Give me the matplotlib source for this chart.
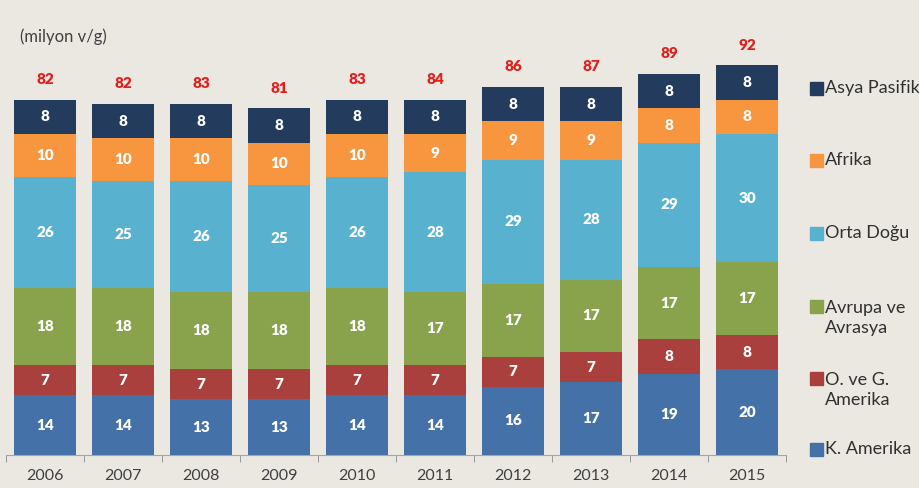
import matplotlib.pyplot as plt
from matplotlib.patches import Rectangle

years = ['2006', '2007', '2008', '2009', '2010', '2011', '2012', '2013', '2014', '2015']
k_amerika = [14, 14, 13, 13, 14, 14, 16, 17, 19, 20]
og_amerika = [7, 7, 7, 7, 7, 7, 7, 7, 8, 8]
avrupa = [18, 18, 18, 18, 18, 17, 17, 17, 17, 17]
orta_dogu = [26, 25, 26, 25, 26, 28, 29, 28, 29, 30]
afrika = [10, 10, 10, 10, 10, 9, 9, 9, 8, 8]
asya = [8, 8, 8, 8, 8, 8, 8, 8, 8, 8]
totals = [82, 82, 83, 81, 83, 84, 86, 87, 89, 92]

series = [
    ('K. Amerika', k_amerika, '#4471A8'),
    ('O. ve G.\nAmerika', og_amerika, '#A9403E'),
    ('Avrupa ve\nAvrasya', avrupa, '#88A34B'),
    ('Orta Doğu', orta_dogu, '#58B1CE'),
    ('Afrika', afrika, '#F7963F'),
    ('Asya Pasifik', asya, '#233C5E'),
]

bg = '#EAE8E1'
plt.rcParams['font.family'] = ['Lato', 'DejaVu Sans']

fig = plt.figure(figsize=(9.19, 4.88), dpi=100, facecolor=bg)
W, H = 919, 488
ax = fig.add_axes([6 / W, (H - 455) / H, 780 / W, 455 / H])
ax.set_facecolor(bg)

x = list(range(len(years)))
bottom = [0] * len(years)
for name, vals, col in series:
    ax.bar(x, vals, bottom=bottom, width=0.8, color=col, edgecolor='none')
    for i, v in enumerate(vals):
        ax.text(i, bottom[i] + v / 2, str(v), ha='center', va='center',
                color='white', fontsize=11, fontweight='heavy')
    bottom = [b + v for b, v in zip(bottom, vals)]

for i, t in enumerate(totals):
    ax.text(i, bottom[i] + 4.7, str(t), ha='center', va='center',
            color='#E0201E', fontsize=11, fontweight='heavy')

ax.set_xlim(-0.5, len(years) - 0.5)
ax.set_ylim(0, 106.3)
ax.set_xticks(x)
ax.set_xticklabels(years, fontsize=11.5, color='#404040')
ax.set_xticks([i - 0.5 for i in range(len(years) + 1)], minor=True)
ax.tick_params(axis='x', which='major', length=0, pad=10)
ax.tick_params(axis='x', which='minor', length=5, color='#8C8C8C', direction='out')
ax.set_yticks([])
for s in ['top', 'right', 'left']:
    ax.spines[s].set_visible(False)
ax.spines['bottom'].set_color('#A6A6A6')
ax.spines['bottom'].set_linewidth(0.8)

fig.text(20 / W, 1 - 37 / H, '(milyon v/g)', fontsize=12, color='#404040',
         ha='left', va='center')

# legend on the right
leg_y = [88, 160, 233, 318, 390, 449]
for (name, vals, col), yy in zip(reversed(series), leg_y):
    first_line = yy if '\n' not in name else yy - 12
    fig.patches.append(Rectangle((810 / W, 1 - (first_line + 7) / H), 13 / W, 13 / H,
                                 transform=fig.transFigure, color=col))
    fig.text(825 / W, 1 - yy / H, name, fontsize=13, color='#303030',
             ha='left', va='center', linespacing=1.35)

fig.savefig('out.png', dpi=100, facecolor=bg)
